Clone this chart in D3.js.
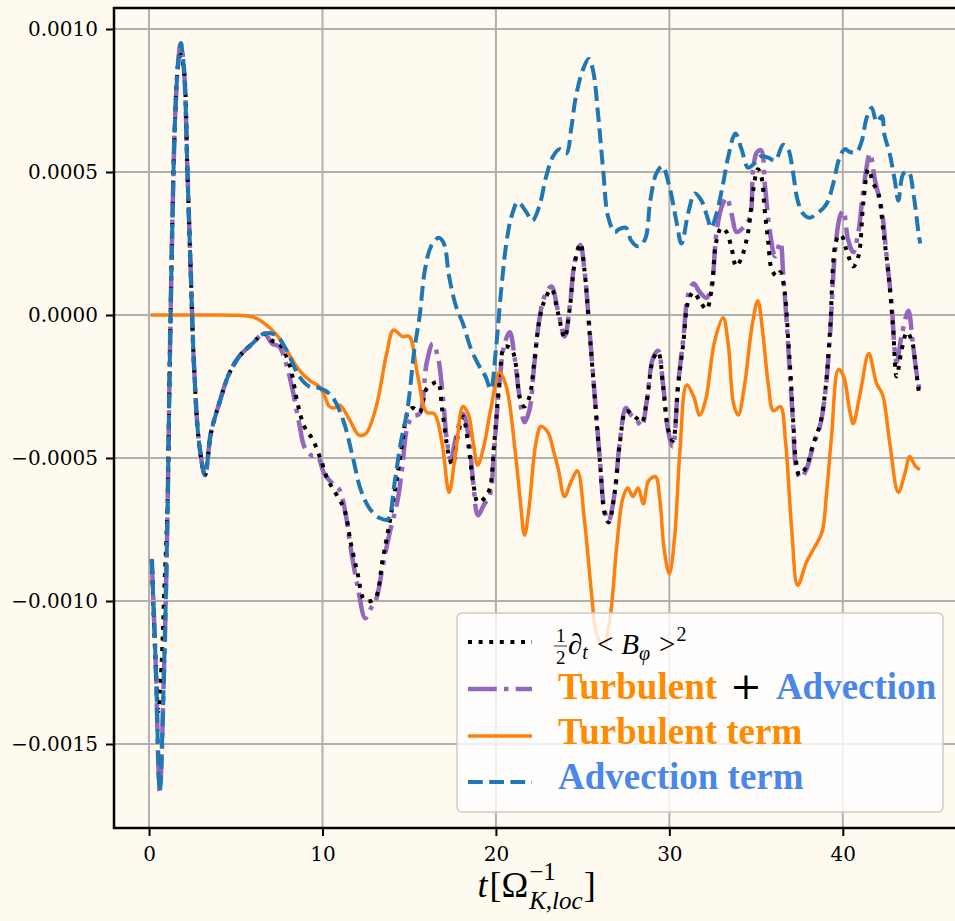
<!DOCTYPE html>
<html lang="en">
<head>
<meta charset="UTF-8">
<title>Toroidal field budget</title>
<style>
  body { margin: 0; background: #fffaf0; overflow: hidden; }
  svg { display: block; }
</style>
</head>
<body>
<div id="chart"></div>
<script src="https://d3js.org/d3.v7.min.js"></script>
<script>
// ---- data: [t, value] ----
const xTicks = [0, 10, 20, 30, 40];
const yTicks = [-0.0015, -0.0010, -0.0005, 0, 0.0005, 0.0010];

// 1/2 d_t <B_phi>^2  (black dotted)
const dtB2 = [[0.16,-0.000855],[0.35,-0.001175],[0.54,-0.001385],[0.72,-0.001225],[0.87,-0.000975],[1.06,-0.000675],
  [1.19,-0.000185],[1.35,0.000335],[1.5,0.000685],[1.69,0.00088],[1.83,0.00091],[2.02,0.00085],[2.21,0.00051],[2.4,0.00016],
  [2.6,-0.000185],[2.89,-0.00045],[3.23,-0.00056],[3.56,-0.000415],[4.04,-0.00031],[4.62,-0.000205],[5.2,-0.000145],
  [5.96,-0.0001],[6.64,-0.000065],[7.1,-0.00009],[7.5,-0.0001],[8.08,-0.00017],[8.57,-0.00031],[8.95,-0.00039],
  [9.43,-0.000435],[9.9,-0.000505],[10.3,-0.000575],[10.78,-0.000625],[11.26,-0.00068],[11.64,-0.0008],[12.03,-0.000905],
  [12.4,-0.000995],[12.8,-0.001],[13.09,-0.000985],[13.47,-0.000855],[13.86,-0.00073],[14.24,-0.00059],[14.6,-0.00045],
  [14.9,-0.000345],[15.2,-0.000325],[15.6,-0.00034],[15.98,-0.00026],[16.36,-0.00024],[16.65,-0.000235],[16.9,-0.00033],
  [17.3,-0.000495],[17.5,-0.000525],[17.8,-0.000425],[18.1,-0.000355],[18.4,-0.00045],[18.7,-0.00059],[18.96,-0.000655],
  [19.34,-0.00064],[19.63,-0.00061],[19.9,-0.00045],[20.2,-0.00024],[20.5,-0.00011],[20.9,-0.00012],[21.17,-0.00018],
  [21.36,-0.000285],[21.65,-0.00032],[21.94,-0.000285],[22.2,-0.00017],[22.5,-0.00002],[22.8,0.00005],[23.2,0.00009],
  [23.57,0.00001],[23.96,-0.00008],[24.25,0.00002],[24.54,0.00018],[24.87,0.00025],[25.1,0.00016],[25.4,-0.00006],
  [25.7,-0.00029],[26.0,-0.000515],[26.27,-0.000695],[26.5,-0.000725],[26.85,-0.00062],[27.14,-0.00045],[27.5,-0.000335],
  [27.8,-0.000345],[28.1,-0.00036],[28.4,-0.000375],[28.7,-0.0003],[29.06,-0.000155],[29.35,-0.00013],[29.64,-0.00025],
  [29.93,-0.0004],[30.2,-0.00044],[30.5,-0.00025],[30.8,-0.0001],[31.1,0.00005],[31.4,0.00008],[31.75,0.00005],
  [32.14,0.00002],[32.43,0.0000875],[32.7,0.000255],[33.0,0.000305],[33.3,0.00029],[33.6,0.00023],[33.85,0.00017],
  [34.16,0.0002],[34.54,0.00029],[34.83,0.000435],[35.1,0.00051],[35.3,0.000485],[35.5,0.000365],[35.7,0.000255],
  [35.9,0.00016],[36.2,0.000135],[36.4,0.00015],[36.66,0.000075],[36.85,-0.0000825],[37.0,-0.00022],[37.14,-0.00037],
  [37.3,-0.00051],[37.5,-0.00056],[37.9,-0.00053],[38.3,-0.00045],[38.7,-0.00038],[39.0,-0.00026],[39.26,-0.00006],
  [39.65,0.000265],[39.9,0.00028],[40.2,0.00023],[40.6,0.00017],[40.9,0.000205],[41.18,0.00039],[41.47,0.00051],
  [41.76,0.00046],[42.05,0.000425],[42.34,0.00029],[42.63,0.000145],[42.9,-0.000045],[43.1,-0.000215],[43.4,-0.00012],
  [43.7,-0.00006],[44.0,-0.000095],[44.2,-0.00018],[44.4,-0.00028]];

// Turbulent + Advection (purple dash-dot)
const turbPlusAdv = [[0.16,-0.000855],[0.39,-0.00123],[0.62,-0.001665],[0.87,-0.00123],[1.06,-0.00071],[1.19,-0.000185],
  [1.35,0.000335],[1.5,0.000685],[1.69,0.00089],[1.83,0.00095],[2.02,0.000855],[2.21,0.00051],[2.4,0.00016],[2.6,-0.000185],
  [2.89,-0.00045],[3.23,-0.00056],[3.56,-0.000415],[4.04,-0.00031],[4.62,-0.000205],[5.2,-0.000145],[5.96,-0.0001],
  [6.64,-0.000065],[7.1,-0.0001],[7.5,-0.00011],[7.9,-0.00017],[8.27,-0.00026],[8.66,-0.00038],[8.95,-0.00046],
  [9.33,-0.00049],[9.72,-0.000495],[10.1,-0.000555],[10.58,-0.00059],[10.97,-0.00061],[11.36,-0.000705],[11.64,-0.00082],
  [12.03,-0.00095],[12.47,-0.00106],[12.8,-0.001025],[13.09,-0.000995],[13.47,-0.00088],[13.86,-0.000765],[14.34,-0.000645],
  [14.6,-0.00053],[14.9,-0.00039],[15.2,-0.000355],[15.6,-0.000345],[16.0,-0.00017],[16.36,-0.0001],[16.65,-0.000145],
  [16.9,-0.00026],[17.2,-0.00045],[17.4,-0.000505],[17.7,-0.000425],[18.1,-0.000345],[18.4,-0.000415],[18.7,-0.00059],
  [18.96,-0.0007],[19.34,-0.00066],[19.63,-0.000635],[19.9,-0.00047],[20.2,-0.00024],[20.5,-0.0001],[20.8,-0.00006],
  [21.07,-0.000145],[21.36,-0.000285],[21.65,-0.000375],[21.94,-0.00033],[22.2,-0.00018],[22.5,-0.0000175],[22.8,0.000065],
  [23.2,0.0001],[23.57,0.0000175],[23.96,-0.000075],[24.25,0.000025],[24.54,0.000185],[24.87,0.000245],[25.1,0.00016],
  [25.4,-0.000055],[25.7,-0.000285],[26.0,-0.00051],[26.27,-0.000685],[26.5,-0.00072],[26.85,-0.00062],[27.14,-0.000445],
  [27.5,-0.000325],[27.8,-0.00035],[28.1,-0.000365],[28.4,-0.00039],[28.7,-0.0003],[29.06,-0.00015],[29.35,-0.000125],
  [29.64,-0.000245],[29.93,-0.000405],[30.2,-0.00046],[30.5,-0.000245],[30.8,-0.000085],[31.1,0.000075],[31.4,0.00011],
  [31.75,0.00008],[32.14,0.00006],[32.43,0.0001],[32.7,0.00028],[33.0,0.000375],[33.3,0.00041],[33.6,0.00035],
  [33.87,0.00029],[34.25,0.000305],[34.64,0.00034],[34.83,0.00051],[35.06,0.00057],[35.3,0.000575],[35.5,0.00046],
  [35.8,0.00029],[36.1,0.000205],[36.4,0.000255],[36.56,0.000145],[36.76,-0.0000225],[36.95,-0.000205],[37.14,-0.000385],
  [37.3,-0.00053],[37.56,-0.00057],[37.9,-0.00054],[38.3,-0.000455],[38.7,-0.000385],[39.0,-0.000265],[39.26,-0.000075],
  [39.55,0.00022],[39.84,0.000345],[40.03,0.000365],[40.3,0.000265],[40.6,0.00022],[40.9,0.00029],[41.18,0.000435],
  [41.57,0.000565],[41.86,0.00047],[42.25,0.000365],[42.5,0.00022],[42.8,0.00005],[43.1,-0.000165],[43.4,-0.00007],
  [43.78,0.000015],[44.03,-0.000095],[44.26,-0.000205],[44.46,-0.000275]];

// Turbulent term (orange solid)
const turbulent = [[0.1,0],[1,0],[2,0],[3,0],[4,0],[5,-0.000001],[5.5,-0.0000025],[6,-0.0000075],[6.5,-0.0000225],
  [7,-0.0000475],[7.5,-0.00008],[8.1,-0.00014],[8.66,-0.000193],[9.24,-0.000228],[9.8,-0.00025],[10.1,-0.00028],
  [10.4,-0.00032],[10.7,-0.000325],[11.0,-0.000315],[11.55,-0.000365],[12.1,-0.00042],[12.5,-0.000415],[13.1,-0.00032],
  [13.7,-0.000135],[14.1,-0.0000525],[14.6,-0.000075],[15.0,-0.000075],[15.5,-0.000215],[16.0,-0.00034],[16.45,-0.000345],
  [16.9,-0.00045],[17.3,-0.00062],[17.7,-0.00047],[18.1,-0.00032],[18.4,-0.000345],[18.7,-0.00045],[18.95,-0.000525],
  [19.3,-0.00046],[19.7,-0.00033],[20.2,-0.0002],[20.6,-0.00025],[21.1,-0.00047],[21.4,-0.000645],[21.65,-0.00077],
  [21.9,-0.00068],[22.3,-0.00045],[22.6,-0.00039],[23.0,-0.00041],[23.3,-0.00047],[23.6,-0.00054],[23.96,-0.000635],
  [24.35,-0.00058],[24.7,-0.000545],[25.1,-0.000715],[25.5,-0.000965],[25.8,-0.001115],[26.2,-0.00116],[26.6,-0.00105],
  [26.95,-0.00082],[27.3,-0.000645],[27.6,-0.000605],[27.9,-0.000635],[28.2,-0.000605],[28.5,-0.00066],[28.8,-0.00058],
  [29.2,-0.000565],[29.45,-0.000645],[29.7,-0.00082],[30.0,-0.000905],[30.3,-0.00078],[30.6,-0.000485],[31.0,-0.000245],
  [31.4,-0.000285],[31.75,-0.00035],[32.1,-0.000295],[32.6,-0.000095],[33.1,-0.00001],[33.4,-0.000105],[33.7,-0.00031],
  [33.97,-0.00035],[34.35,-0.00024],[34.75,-0.000045],[35.1,0.00005],[35.4,-0.00007],[35.7,-0.00024],[36.0,-0.000335],
  [36.4,-0.00032],[36.7,-0.000445],[37.05,-0.000745],[37.4,-0.000945],[37.9,-0.000865],[38.3,-0.00082],[38.8,-0.00076],
  [39.06,-0.000625],[39.35,-0.000425],[39.75,-0.00019],[40.05,-0.000215],[40.4,-0.000335],[40.6,-0.00038],[41.0,-0.000275],
  [41.5,-0.000135],[41.95,-0.00024],[42.3,-0.00028],[42.7,-0.000445],[43.2,-0.00062],[43.6,-0.00055],[43.85,-0.000495],
  [44.2,-0.00053],[44.45,-0.00054]];

// Advection term (blue dashed)
const advection = [[0.16,-0.000855],[0.39,-0.00123],[0.62,-0.001665],[0.87,-0.00123],[1.06,-0.00071],[1.19,-0.000185],
  [1.35,0.000335],[1.5,0.000685],[1.69,0.00089],[1.83,0.00095],[2.02,0.000855],[2.21,0.00051],[2.4,0.00016],[2.6,-0.000185],
  [2.89,-0.00045],[3.23,-0.00056],[3.56,-0.000415],[4.04,-0.00031],[4.62,-0.000205],[5.2,-0.000145],[5.96,-0.0001],
  [6.64,-0.000065],[7.3,-0.00007],[7.9,-0.00012],[8.66,-0.000215],[9.24,-0.00025],[9.8,-0.000255],[10.4,-0.000275],
  [10.8,-0.00031],[11.26,-0.00038],[11.74,-0.000495],[12.2,-0.00061],[12.7,-0.000675],[13.3,-0.00071],[13.76,-0.000715],
  [14.15,-0.00059],[14.5,-0.00045],[14.9,-0.00033],[15.3,-0.00012],[15.6,-0.000005],[15.9,0.000155],[16.26,0.00024],
  [16.7,0.00027],[17.0,0.00025],[17.3,0.000135],[17.7,0.00003],[18.1,-0.00003],[18.57,-0.00012],[19.05,-0.00018],
  [19.4,-0.000215],[19.7,-0.00026],[20.0,-0.00012],[20.3,0.000085],[20.6,0.00025],[20.9,0.000345],[21.27,0.000395],
  [21.75,0.00036],[22.1,0.00033],[22.5,0.00038],[22.9,0.000485],[23.3,0.000555],[23.67,0.00058],[24.06,0.000565],
  [24.35,0.000655],[24.6,0.00076],[25.0,0.000855],[25.36,0.000895],[25.6,0.000855],[25.9,0.000695],[26.2,0.000495],
  [26.46,0.000345],[26.85,0.00029],[27.1,0.0003],[27.5,0.000305],[27.8,0.00026],[28.2,0.00024],[28.6,0.000265],
  [28.9,0.0004],[29.25,0.000495],[29.6,0.00052],[30.0,0.00045],[30.4,0.00033],[30.7,0.00025],[31.1,0.00036],
  [31.47,0.000425],[31.85,0.0004],[32.2,0.00034],[32.4,0.000305],[32.7,0.00035],[33.1,0.00046],[33.4,0.000555],
  [33.8,0.000635],[34.16,0.00058],[34.54,0.000515],[34.9,0.00053],[35.3,0.000555],[35.7,0.00055],[36.1,0.00054],
  [36.56,0.000595],[36.85,0.00058],[37.1,0.00051],[37.4,0.0004],[37.7,0.000355],[38.1,0.00034],[38.5,0.000355],
  [38.9,0.000375],[39.16,0.0004],[39.45,0.00046],[39.84,0.000555],[40.13,0.00058],[40.4,0.00057],[40.8,0.00057],
  [41.08,0.000605],[41.38,0.00069],[41.67,0.000725],[41.95,0.000675],[42.25,0.000695],[42.4,0.00063],[42.7,0.000565],
  [43.0,0.00047],[43.2,0.0004],[43.5,0.000495],[43.8,0.0005],[44.07,0.000425],[44.36,0.00029],[44.46,0.00025]];

// ---- layout ----
const W = 955, H = 921;
const plot = { left: 114, right: 959, top: 8, bottom: 828 };
const ORANGE_TXT = '#ff8c00', BLUE_TXT = '#4a87e8';

const svg = d3.select('#chart').append('svg').attr('width', W).attr('height', H);
svg.append('rect').attr('width', W).attr('height', H).attr('fill', '#fffaf0');

const x = d3.scaleLinear().domain([-2.02, 46.7]).range([plot.left, plot.right]);
const y = d3.scaleLinear().domain([-0.0017937, 0.0010734]).range([plot.bottom, plot.top]);

svg.append('clipPath').attr('id', 'clip')
  .append('rect')
  .attr('x', plot.left).attr('y', plot.top)
  .attr('width', plot.right - plot.left).attr('height', plot.bottom - plot.top);

// grid
const grid = svg.append('g').attr('stroke', '#b0b0b0').attr('stroke-width', 2);
grid.selectAll('.gx').data(xTicks).enter().append('line')
  .attr('x1', d => x(d)).attr('x2', d => x(d))
  .attr('y1', plot.top).attr('y2', plot.bottom);
grid.selectAll('.gy').data(yTicks).enter().append('line')
  .attr('x1', plot.left).attr('x2', plot.right)
  .attr('y1', d => y(d)).attr('y2', d => y(d));

// curves
const series = [
  { data: turbPlusAdv, color: '#9467bd', width: 4.5, dash: '28.8,7.2,4.5,7.2' },
  { data: dtB2, color: '#000000', width: 4, dash: '4,6.6' },
  { data: turbulent, color: '#ff7f0e', width: 3.5, dash: null },
  { data: advection, color: '#1f77b4', width: 4, dash: '14.8,6.4' }
];

const line = d3.line()
  .x(d => x(d[0]))
  .y(d => y(d[1]))
  .curve(d3.curveCatmullRom.alpha(0.5));

const curves = svg.append('g').attr('clip-path', 'url(#clip)');
series.forEach(s => {
  curves.append('path')
    .datum(s.data)
    .attr('d', line)
    .attr('fill', 'none')
    .attr('stroke', s.color)
    .attr('stroke-width', s.width)
    .attr('stroke-linejoin', 'round')
    .attr('stroke-linecap', 'butt')
    .attr('stroke-dasharray', s.dash);
});

// axes
const fmtY = d3.format('.4f');
const yAxis = svg.append('g')
  .attr('transform', `translate(${plot.left},0)`)
  .call(d3.axisLeft(y).tickValues(yTicks).tickFormat(fmtY).tickSize(8).tickPadding(8));
const xAxis = svg.append('g')
  .attr('transform', `translate(0,${plot.bottom})`)
  .call(d3.axisBottom(x).tickValues(xTicks).tickFormat(d3.format('d')).tickSize(8).tickPadding(11));

[xAxis, yAxis].forEach(a => {
  a.select('.domain').remove();
  a.selectAll('.tick line').attr('stroke', '#000').attr('stroke-width', 2);
  a.selectAll('.tick text')
    .attr('fill', '#000')
    .attr('font-family', 'DejaVu Serif')
    .attr('font-size', 20);
});

// spines
svg.append('rect')
  .attr('x', plot.left).attr('y', plot.top)
  .attr('width', plot.right - plot.left).attr('height', plot.bottom - plot.top)
  .attr('fill', 'none').attr('stroke', '#000').attr('stroke-width', 2.5);

// little helper for the math-ish labels
function piece(g, txt, px, py, o) {
  const t = g.append('text')
    .attr('x', px).attr('y', py)
    .attr('font-family', o.family || 'Liberation Serif')
    .attr('font-size', o.size)
    .attr('font-style', o.italic ? 'italic' : 'normal')
    .attr('font-weight', o.bold ? 'bold' : 'normal')
    .attr('fill', o.color || '#000')
    .text(txt);
  return t.node().getComputedTextLength();
}

// x label: t[Ω^{-1}_{K,loc}]
const xl = svg.append('g');
let cx = 0;
const baseX = 897;
cx += piece(xl, 't', cx, baseX, { size: 36, italic: true }) + 2;
cx += piece(xl, '[', cx, baseX, { size: 36 });
cx += piece(xl, 'Ω', cx, baseX, { size: 36 }) + 1;
const wSup = piece(xl, '−1', cx, baseX - 17, { size: 25 });
const wSub = piece(xl, 'K,loc', cx, baseX + 12, { size: 25, italic: true });
cx += Math.max(wSup, wSub) + 1;
cx += piece(xl, ']', cx, baseX, { size: 36 });
xl.attr('transform', `translate(${(plot.left + plot.right) / 2 - cx / 2},0)`);

// legend
const lg = svg.append('g');
lg.append('rect')
  .attr('x', 457).attr('y', 613).attr('width', 486).attr('height', 199).attr('rx', 5)
  .attr('fill', '#ffffff').attr('fill-opacity', 0.8)
  .attr('stroke', '#cccccc').attr('stroke-width', 1.5);

const rows = [642, 689, 736, 782];
const order = [1, 0, 2, 3];
order.forEach((si, i) => {
  const s = series[si];
  lg.append('line')
    .attr('x1', 468).attr('x2', 532)
    .attr('y1', rows[i]).attr('y2', rows[i])
    .attr('stroke', s.color)
    .attr('stroke-width', s.width)
    .attr('stroke-dasharray', s.dash);
});

// row 1: (1/2) ∂_t < B_φ >^2
let lx = 554;
const b1 = 654;
piece(lg, '1', lx + 2, b1 - 12, { size: 19 });
piece(lg, '2', lx + 2, b1 + 10, { size: 19 });
lg.append('line').attr('x1', lx).attr('x2', lx + 13).attr('y1', b1 - 8).attr('y2', b1 - 8)
  .attr('stroke', '#000').attr('stroke-width', 0.8);
lx += 14;
lx += piece(lg, '∂', lx, b1, { size: 29, italic: true });
lx += piece(lg, 't', lx, b1 + 5, { size: 20, italic: true }) + 9;
lx += piece(lg, '<', lx, b1, { size: 29 }) + 8;
lx += piece(lg, 'B', lx, b1, { size: 29, italic: true });
lx += piece(lg, 'φ', lx, b1 + 6, { size: 20, italic: true }) + 9;
lx += piece(lg, '>', lx, b1, { size: 29 }) + 1;
piece(lg, '2', lx, b1 - 13, { size: 20 });

// row 2: Turbulent + Advection
let r2 = 558;
r2 += piece(lg, 'Turbulent', r2, 699, { size: 37, bold: true, color: ORANGE_TXT }) + 13;
r2 += piece(lg, '+', r2, 699, { size: 38, family: 'DejaVu Serif' }) + 14;
piece(lg, 'Advection', r2, 699, { size: 37, bold: true, color: BLUE_TXT });

// rows 3 and 4
piece(lg, 'Turbulent term', 558, 744, { size: 37, bold: true, color: ORANGE_TXT });
piece(lg, 'Advection term', 558, 789, { size: 37, bold: true, color: BLUE_TXT });
</script>
</body>
</html>
